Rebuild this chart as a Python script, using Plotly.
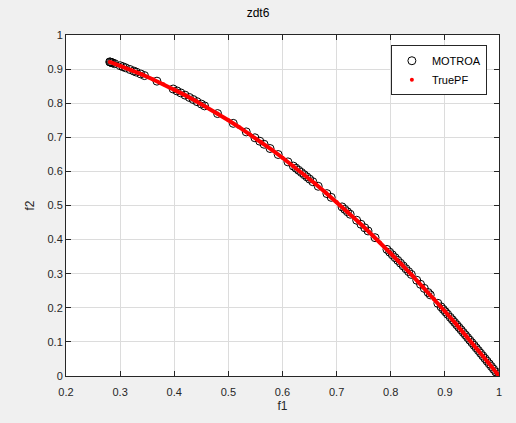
import plotly.graph_objects as go

# MOTROA solutions
motroa_f1 = [0.2808, 0.282, 0.284, 0.286, 0.29, 0.30, 0.305, 0.31, 0.318, 0.325, 0.33, 0.338, 0.345,
             0.368, 0.398, 0.405, 0.412, 0.42, 0.428, 0.435, 0.442, 0.45, 0.456, 0.48, 0.509, 0.533,
             0.549, 0.558, 0.566, 0.577, 0.592, 0.61, 0.62, 0.625, 0.63, 0.635, 0.64, 0.645, 0.65,
             0.656, 0.666, 0.682, 0.69, 0.71, 0.715, 0.72, 0.725, 0.737, 0.745, 0.752, 0.758, 0.771,
             0.793, 0.798, 0.803, 0.808, 0.813, 0.818, 0.823, 0.828, 0.833, 0.838, 0.848, 0.855,
             0.862, 0.869, 0.873, 0.887, 0.893, 0.897, 0.901, 0.905, 0.91, 0.914, 0.918, 0.922,
             0.926, 0.93, 0.934, 0.938, 0.942, 0.946, 0.95, 0.954, 0.958, 0.962, 0.966, 0.97,
             0.974, 0.978, 0.982, 0.986, 0.99, 0.994, 0.998, 1.0]
motroa_f2 = [0.9211, 0.9205, 0.9193, 0.9182, 0.9159, 0.91, 0.907, 0.9039, 0.8989, 0.8944, 0.8911,
             0.8858, 0.881, 0.8646, 0.8416, 0.836, 0.8303, 0.8236, 0.8168, 0.8108, 0.8046, 0.7975,
             0.7921, 0.7696, 0.7409, 0.7159, 0.6986, 0.6886, 0.6796, 0.6671, 0.6495, 0.6279,
             0.6156, 0.6094, 0.6031, 0.5968, 0.5904, 0.584, 0.5775, 0.5697, 0.5564, 0.5349,
             0.5239, 0.4959, 0.4888, 0.4816, 0.4744, 0.4568, 0.445, 0.4345, 0.4254, 0.4056,
             0.3712, 0.3632, 0.3552, 0.3471, 0.339, 0.3309, 0.3227, 0.3144, 0.3061, 0.2978,
             0.2809, 0.269, 0.257, 0.2448, 0.2379, 0.2132, 0.2026, 0.1954, 0.1882, 0.181,
             0.1719, 0.1646, 0.1573, 0.1499, 0.1425, 0.1351, 0.1276, 0.1202, 0.1126, 0.1051,
             0.0975, 0.0899, 0.0822, 0.0746, 0.0668, 0.0591, 0.0513, 0.0435, 0.0357, 0.0278,
             0.0199, 0.012, 0.004, 0.0]

# True Pareto front
truepf_f1 = [0.2808, 0.30, 0.32, 0.34, 0.36, 0.38, 0.40, 0.42, 0.44, 0.46, 0.48, 0.50, 0.52, 0.54,
             0.56, 0.58, 0.60, 0.62, 0.64, 0.66, 0.68, 0.70, 0.72, 0.74, 0.76, 0.78, 0.80, 0.82,
             0.84, 0.86, 0.88, 0.90, 0.92, 0.94, 0.96, 0.98, 1.00]
truepf_f2 = [0.9211, 0.91, 0.8976, 0.8844, 0.8704, 0.8556, 0.84, 0.8236, 0.8064, 0.7884, 0.7696,
             0.75, 0.7296, 0.7084, 0.6864, 0.6636, 0.64, 0.6156, 0.5904, 0.5644, 0.5376, 0.51,
             0.4816, 0.4524, 0.4224, 0.3916, 0.36, 0.3276, 0.2944, 0.2604, 0.2256, 0.19, 0.1536,
             0.1164, 0.0784, 0.0396, 0.0]

x_ticks = [0.2, 0.3, 0.4, 0.5, 0.6, 0.7, 0.8, 0.9, 1.0]
x_ticktext = ["0.2", "0.3", "0.4", "0.5", "0.6", "0.7", "0.8", "0.9", "1"]
y_ticks = [0, 0.1, 0.2, 0.3, 0.4, 0.5, 0.6, 0.7, 0.8, 0.9, 1.0]
y_ticktext = ["0", "0.1", "0.2", "0.3", "0.4", "0.5", "0.6", "0.7", "0.8", "0.9", "1"]

FONT = "Liberation Sans, Arial, sans-serif"
AX = "#262626"

fig = go.Figure()
fig.add_trace(go.Scatter(
    x=motroa_f1, y=motroa_f2, mode="markers", name="MOTROA",
    marker=dict(symbol="circle-open", size=8, color="black", line=dict(width=1, color="black")),
))
fig.add_trace(go.Scatter(
    x=truepf_f1, y=truepf_f2, mode="lines", showlegend=False,
    line=dict(color="red", width=4), hoverinfo="skip",
))
fig.add_trace(go.Scatter(
    x=truepf_f1, y=truepf_f2, mode="markers", name="TruePF",
    marker=dict(symbol="circle", size=4, color="red"),
))

axis_common = dict(
    showline=True, linecolor=AX, linewidth=1, mirror="ticks",
    ticks="inside", ticklen=5, tickcolor=AX, tickwidth=1,
    showgrid=True, gridcolor="#DCDCDC", gridwidth=1, zeroline=False,
    tickfont=dict(family=FONT, size=11, color=AX),
)

fig.update_layout(
    width=516, height=423,
    paper_bgcolor="#F0F0F0", plot_bgcolor="white",
    margin=dict(l=66, r=17, t=35, b=45),
    title=dict(text="zdt6", x=0.5, xanchor="center", y=1 - 13 / 423, yanchor="middle",
               font=dict(family=FONT, size=12, color="black")),
    xaxis=dict(range=[0.2, 1.0], tickvals=x_ticks, ticktext=x_ticktext, ticklabelstandoff=6,
               title=dict(text="f1", font=dict(family=FONT, size=12, color=AX), standoff=4),
               **axis_common),
    yaxis=dict(range=[0, 1.0], tickvals=y_ticks, ticktext=y_ticktext,
               title=dict(text="f2", font=dict(family=FONT, size=12, color=AX), standoff=10),
               **axis_common),
    legend=dict(x=0.972, xanchor="right", y=0.97, yanchor="top",
                bgcolor="white", bordercolor=AX, borderwidth=1,
                font=dict(family=FONT, size=11, color="black"),
                tracegroupgap=0, itemwidth=30),
    showlegend=True,
)

fig.write_html("out.html", config={"displayModeBar": False},
               post_script="document.body.style.margin='0px';document.body.style.background='#F0F0F0';")
